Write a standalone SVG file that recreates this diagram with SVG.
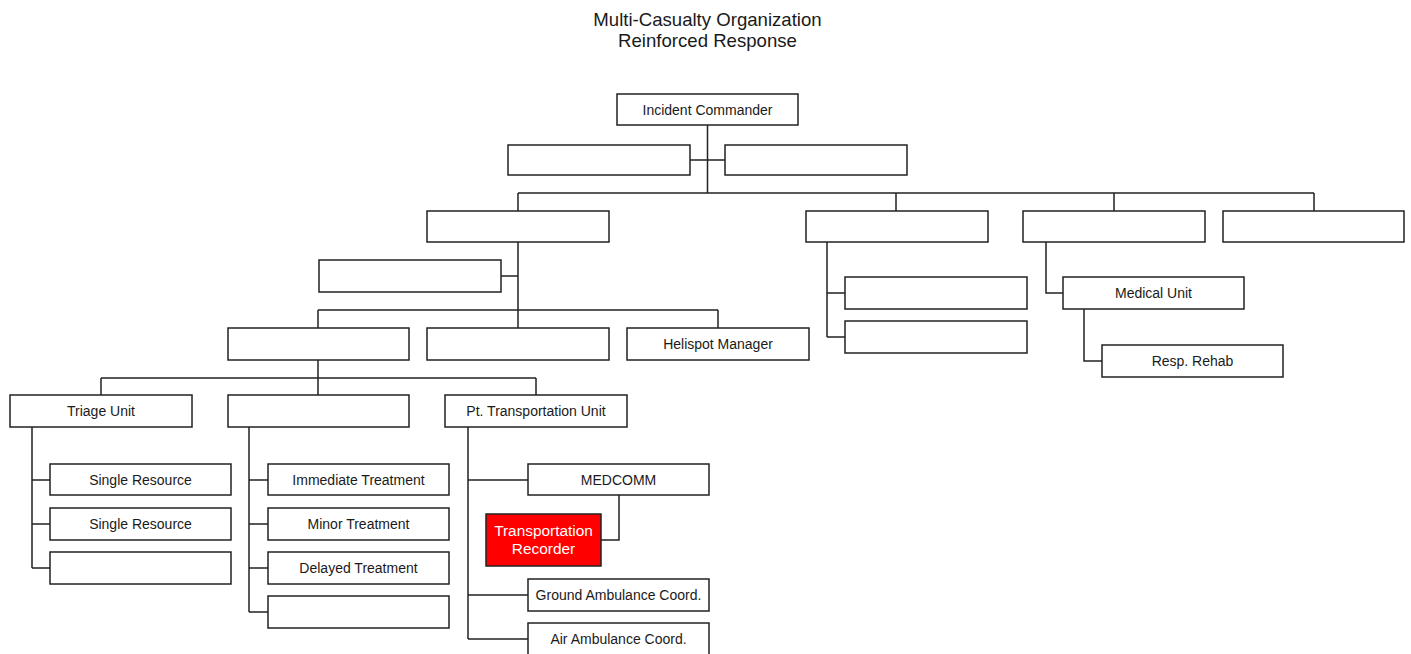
<svg xmlns="http://www.w3.org/2000/svg" width="1411" height="654" viewBox="0 0 1411 654">
<style>
.b{fill:#fff;stroke:#222;stroke-width:1.5}
.r{fill:#ff0000;stroke:#222;stroke-width:1.5}
.t{font-family:"Liberation Sans",Arial,sans-serif;font-size:14px;fill:#1a1a1a;text-anchor:middle}
.w{font-family:"Liberation Sans",Arial,sans-serif;font-size:15.4px;fill:#fff;text-anchor:middle}
.h{font-family:"Liberation Sans",Arial,sans-serif;font-size:18.6px;fill:#1a1a1a;text-anchor:middle}
.c path{fill:none;stroke:#222;stroke-width:1.5}
</style>
<rect width="1411" height="654" fill="#fff"/>
<g id="title">
<text class="h" x="707.5" y="26">Multi-Casualty Organization</text>
<text class="h" x="707.5" y="47">Reinforced Response</text>
</g>
<g class="c" id="connectors">
<path d="M707.5 125V193M690 160H725"/>
<path d="M518 193H1314M518 193V211M896 193V211M1114 193V211M1314 193V211"/>
<path d="M518 242V310M501 276H518"/>
<path d="M318 310H718M318 310V328M518 310V328M718 310V328"/>
<path d="M318 360V378M101 378H536M101 378V395M318 378V395M536 378V395"/>
<path d="M32 427V568M32 480H50M32 524H50M32 568H50"/>
<path d="M249 427V612M249 480H268M249 524H268M249 568H268M249 612H268"/>
<path d="M468 427V639M468 480H528M468 595H528M468 639H528"/>
<path d="M619 495V540H601"/>
<path d="M827 242V337M827 293H845M827 337H845"/>
<path d="M1046 242V293H1063"/>
<path d="M1084 309V361H1102"/>
</g>
<g id="incident-commander"><rect class="b" x="617" y="94" width="181" height="31"/><text class="t" x="707.5" y="114.5">Incident Commander</text></g>
<g id="staff-left"><rect class="b" x="508" y="145" width="182" height="30"/></g>
<g id="staff-right"><rect class="b" x="725" y="145" width="182" height="30"/></g>
<g id="section-a"><rect class="b" x="427" y="211" width="182" height="31"/></g>
<g id="section-b"><rect class="b" x="806" y="211" width="182" height="31"/></g>
<g id="section-c"><rect class="b" x="1023" y="211" width="182" height="31"/></g>
<g id="section-d"><rect class="b" x="1223" y="211" width="181" height="31"/></g>
<g id="staging"><rect class="b" x="319" y="260" width="182" height="32"/></g>
<g id="branch-f"><rect class="b" x="228" y="328" width="181" height="32"/></g>
<g id="branch-g"><rect class="b" x="427" y="328" width="182" height="32"/></g>
<g id="helispot-manager"><rect class="b" x="627" y="328" width="182" height="32"/><text class="t" x="718" y="349">Helispot Manager</text></g>
<g id="triage-unit"><rect class="b" x="10" y="395" width="182" height="32"/><text class="t" x="101" y="416">Triage Unit</text></g>
<g id="treatment-unit"><rect class="b" x="228" y="395" width="181" height="32"/></g>
<g id="pt-transportation-unit"><rect class="b" x="445" y="395" width="182" height="32"/><text class="t" x="536" y="416">Pt. Transportation Unit</text></g>
<g id="single-resource-1"><rect class="b" x="50" y="464" width="181" height="31"/><text class="t" x="140.5" y="484.5">Single Resource</text></g>
<g id="single-resource-2"><rect class="b" x="50" y="508" width="181" height="32"/><text class="t" x="140.5" y="529">Single Resource</text></g>
<g id="triage-empty"><rect class="b" x="50" y="552" width="181" height="32"/></g>
<g id="immediate-treatment"><rect class="b" x="268" y="464" width="181" height="31"/><text class="t" x="358.5" y="484.5">Immediate Treatment</text></g>
<g id="minor-treatment"><rect class="b" x="268" y="508" width="181" height="32"/><text class="t" x="358.5" y="529">Minor Treatment</text></g>
<g id="delayed-treatment"><rect class="b" x="268" y="552" width="181" height="32"/><text class="t" x="358.5" y="573">Delayed Treatment</text></g>
<g id="treatment-empty"><rect class="b" x="268" y="596" width="181" height="32"/></g>
<g id="medcomm"><rect class="b" x="528" y="464" width="181" height="31"/><text class="t" x="618.5" y="484.5">MEDCOMM</text></g>
<g id="transportation-recorder"><rect class="r" x="486" y="514" width="115" height="52"/><text class="w" x="543.5" y="536">Transportation</text><text class="w" x="543.5" y="554.3">Recorder</text></g>
<g id="ground-ambulance"><rect class="b" x="528" y="579" width="181" height="32"/><text class="t" x="618.5" y="600">Ground Ambulance Coord.</text></g>
<g id="air-ambulance"><rect class="b" x="528" y="623" width="181" height="32"/><text class="t" x="618.5" y="644">Air Ambulance Coord.</text></g>
<g id="section-b-child-1"><rect class="b" x="845" y="277" width="182" height="32"/></g>
<g id="section-b-child-2"><rect class="b" x="845" y="321" width="182" height="32"/></g>
<g id="medical-unit"><rect class="b" x="1063" y="277" width="181" height="32"/><text class="t" x="1153.5" y="298">Medical Unit</text></g>
<g id="resp-rehab"><rect class="b" x="1102" y="345" width="181" height="32"/><text class="t" x="1192.5" y="366">Resp. Rehab</text></g>
</svg>
